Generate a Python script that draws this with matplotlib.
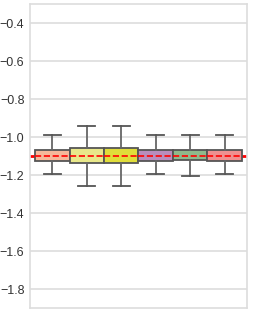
import numpy as np
import matplotlib
matplotlib.use("Agg")
import matplotlib.pyplot as plt

plt.rcParams['font.family'] = ['Liberation Sans', 'DejaVu Sans']

# box statistics
med = [-1.10, -1.10, -1.10, -1.10, -1.10, -1.10]
q1 = [-1.126, -1.135, -1.135, -1.126, -1.122, -1.126]
q3 = [-1.068, -1.058, -1.058, -1.068, -1.070, -1.068]
whislo = [-1.197, -1.255, -1.255, -1.197, -1.204, -1.197]
whishi = [-0.988, -0.940, -0.940, -0.988, -0.988, -0.988]
colors = ['#f5b89a', '#e9e88a', '#e0dd3a', '#b98dbd', '#8fb98b', '#ef9090']
ref_value = -1.1

stats = []
for i in range(len(med)):
    stats.append(dict(med=med[i], q1=q1[i], q3=q3[i], whislo=whislo[i],
                      whishi=whishi[i], fliers=[]))

fig = plt.figure(figsize=(2.75, 3.14), dpi=100)
ax = fig.add_axes([0.109, 0.019, 0.789, 0.968])

ax.yaxis.grid(True, color='#dddddd', linewidth=1.2, zorder=0)
ax.set_axisbelow(True)

# reference line sits behind the boxes
ax.axhline(ref_value, color='red', linewidth=2, zorder=1.5)

bp = ax.bxp(stats, positions=np.arange(len(med)), widths=1.0, patch_artist=True,
            boxprops=dict(edgecolor='#555555', linewidth=1.3),
            whiskerprops=dict(color='#666666', linewidth=1.3),
            capprops=dict(color='#555555', linewidth=1.3),
            medianprops=dict(color='red', linestyle='--', linewidth=1.2),
            showfliers=False, zorder=2)
for patch, c in zip(bp['boxes'], colors):
    patch.set_facecolor(c)

ax.set_xlim(-0.65, len(med) - 0.35)
ax.set_ylim(-1.9, -0.3)
ax.set_yticks([-0.4, -0.6, -0.8, -1.0, -1.2, -1.4, -1.6, -1.8])
ax.set_yticklabels(['\u22120.4', '\u22120.6', '\u22120.8', '\u22121.0',
                    '\u22121.2', '\u22121.4', '\u22121.6', '\u22121.8'])
ax.set_xticks([])
ax.tick_params(axis='y', length=0, labelsize=9, colors='#333333', pad=4)
for s in ax.spines.values():
    s.set_color('#dddddd')
    s.set_linewidth(1.2)

plt.savefig('out.png', dpi=100)
